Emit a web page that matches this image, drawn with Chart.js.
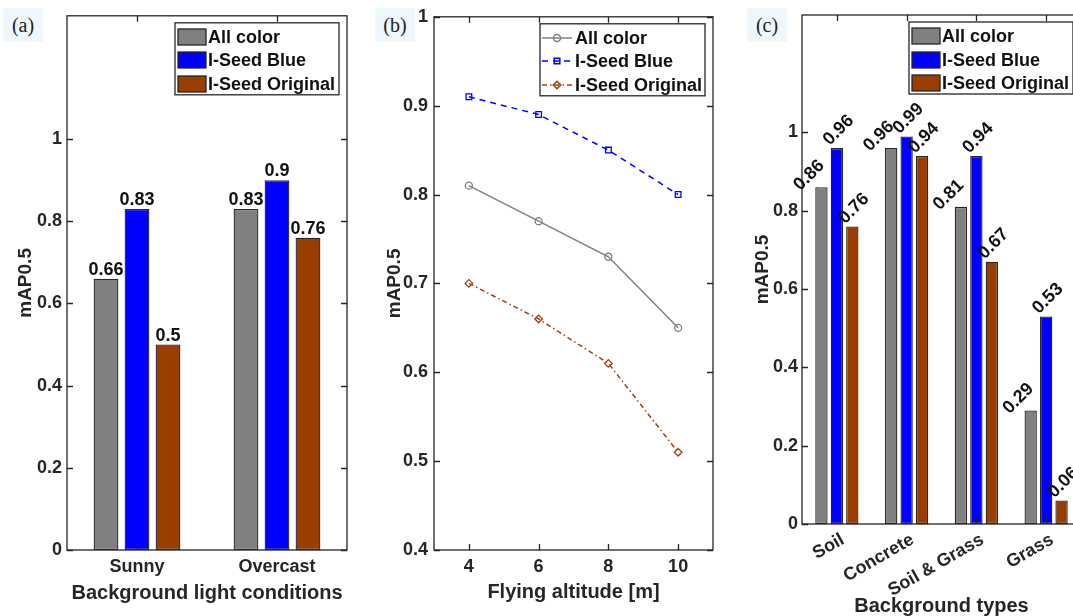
<!DOCTYPE html>
<html>
<head>
<meta charset="utf-8">
<title>mAP0.5 comparison</title>
<script src="https://cdn.jsdelivr.net/npm/chart.js@4.4.1/dist/chart.umd.min.js"></script>
<style>
  html, body { margin: 0; padding: 0; background: #fff; width: 1073px; height: 616px; overflow: hidden; position: relative; }
  canvas { position: absolute; top: 0; }
  .tag { position: absolute; top: 8px; width: 40px; height: 34px; background: #eef7fb;
         font-family: 'Liberation Serif', 'DejaVu Serif', serif; font-size: 20px; color: #222;
         text-align: center; line-height: 34px; }
</style>
</head>
<body>
<canvas id="chartLight" width="362" height="616" style="left:0px"></canvas>
<canvas id="chartAltitude" width="360" height="616" style="left:370px"></canvas>
<canvas id="chartBackground" width="400" height="616" style="left:740px"></canvas>
<div class="tag" style="left:3px">(a)</div>
<div class="tag" style="left:375px">(b)</div>
<div class="tag" style="left:747px">(c)</div>
<script>
// ---- data ----
const seriesNames = ['All color', 'I-Seed Blue', 'I-Seed Original'];

const lightConditions = ['Sunny', 'Overcast'];
const lightAllColor = [0.66, 0.83];
const lightSeedBlue = [0.83, 0.90];
const lightSeedOriginal = [0.50, 0.76];

const altitudes = [4, 6, 8, 10];
const altAllColor = [0.81, 0.77, 0.73, 0.65];
const altSeedBlue = [0.91, 0.89, 0.85, 0.80];
const altSeedOriginal = [0.70, 0.66, 0.61, 0.51];

const backgroundTypes = ['Soil', 'Concrete', 'Soil & Grass', 'Grass'];
const bgAllColor = [0.86, 0.96, 0.81, 0.29];
const bgSeedBlue = [0.96, 0.99, 0.94, 0.53];
const bgSeedOriginal = [0.76, 0.94, 0.67, 0.06];

const barYTicks = [0, 0.2, 0.4, 0.6, 0.8, 1];
const altYTicks = [0.4, 0.5, 0.6, 0.7, 0.8, 0.9, 1];
const altXTicks = [4, 6, 8, 10];

// ---- styling ----
const INK = '#262626';
const GRAY = '#808080';
const BLUE = '#0000ff';
const BROWN = '#993d00';
const LINE_BROWN = '#a0410d';
const FONT = "'Liberation Sans', Arial, Helvetica, sans-serif";

Chart.defaults.font.family = FONT;
Chart.defaults.color = INK;

// box around the plot area with inward tick marks on all four sides
const framePlugin = {
  id: 'frame',
  afterDatasetsDraw(chart) {
    const { ctx, chartArea: a, scales: { x, y } } = chart;
    const L = 6;
    ctx.save();
    ctx.strokeStyle = INK;
    ctx.lineWidth = 1.3;
    ctx.beginPath();
    x.ticks.forEach((t, i) => {
      const px = Math.round(x.getPixelForTick(i)) + 0.5;
      ctx.moveTo(px, a.bottom); ctx.lineTo(px, a.bottom - L);
      ctx.moveTo(px, a.top); ctx.lineTo(px, a.top + L);
    });
    y.ticks.forEach((t, i) => {
      const py = Math.round(y.getPixelForTick(i)) + 0.5;
      ctx.moveTo(a.left, py); ctx.lineTo(a.left + L, py);
      ctx.moveTo(a.right, py); ctx.lineTo(a.right - L, py);
    });
    ctx.stroke();
    ctx.strokeRect(a.left, a.top, a.right - a.left, a.bottom - a.top);
    ctx.restore();
  }
};

// value written above each bar
const barValuePlugin = {
  id: 'barValues',
  afterDatasetsDraw(chart, args, opts) {
    const { ctx } = chart;
    ctx.save();
    ctx.font = `bold 18px ${FONT}`;
    ctx.fillStyle = '#111';
    chart.data.datasets.forEach((ds, di) => {
      const meta = chart.getDatasetMeta(di);
      meta.data.forEach((bar, j) => {
        const text = String(ds.data[j]);
        if (opts.rotated) {
          const off = opts.offsets[di];
          ctx.save();
          ctx.translate(bar.x - bar.width / 2 + off[0], bar.y + off[1]);
          ctx.rotate(-Math.PI / 4);
          ctx.textAlign = 'left';
          ctx.textBaseline = 'alphabetic';
          ctx.fillText(text, 0, 0);
          ctx.restore();
        } else {
          ctx.textAlign = 'center';
          ctx.textBaseline = 'alphabetic';
          ctx.fillText(text, bar.x, bar.y - 4);
        }
      });
    });
    ctx.restore();
  }
};

function drawMarker(ctx, style, x, y, r) {
  ctx.beginPath();
  if (style === 'circle') {
    ctx.arc(x, y, r, 0, Math.PI * 2);
  } else if (style === 'rect') {
    const s = r * Math.SQRT1_2;
    ctx.rect(x - s, y - s, 2 * s, 2 * s);
  } else {
    ctx.moveTo(x, y - r); ctx.lineTo(x + r, y); ctx.lineTo(x, y + r); ctx.lineTo(x - r, y); ctx.closePath();
  }
  ctx.stroke();
}

// boxed legend in the upper right corner of the plot area
const boxLegendPlugin = {
  id: 'boxLegend',
  afterDraw(chart, args, opts) {
    const { ctx, chartArea: a } = chart;
    const w = opts.width, h = 72;
    const right = a.right - 8, top = a.top + 7, left = right - w;
    ctx.save();
    ctx.fillStyle = '#fff';
    ctx.fillRect(left, top, w, h);
    ctx.strokeStyle = INK;
    ctx.lineWidth = 1.3;
    ctx.strokeRect(left, top, w, h);
    ctx.font = `bold 18px ${FONT}`;
    ctx.textBaseline = 'middle';
    ctx.textAlign = 'left';
    chart.data.datasets.forEach((ds, i) => {
      const cy = Math.round(top + 14 + i * 23.5);
      let tx;
      if (opts.kind === 'bar') {
        ctx.fillStyle = ds.backgroundColor;
        ctx.fillRect(left + 3, cy - 8, 28, 16);
        ctx.strokeStyle = INK;
        ctx.lineWidth = 1.3;
        ctx.strokeRect(left + 3, cy - 8, 28, 16);
        tx = left + 33;
      } else {
        ctx.strokeStyle = ds.borderColor;
        ctx.lineWidth = ds.borderWidth;
        ctx.setLineDash(ds.borderDash || []);
        ctx.beginPath();
        ctx.moveTo(left + 2, cy); ctx.lineTo(left + 32, cy);
        ctx.stroke();
        ctx.setLineDash([]);
        ctx.fillStyle = '#fff';
        drawMarker(ctx, ds.pointStyle, left + 17, cy, ds.pointRadius);
        tx = left + 35;
      }
      ctx.fillStyle = '#111';
      ctx.fillText(ds.label, tx, cy + 1);
    });
    ctx.restore();
  }
};

const tickFont = { size: 18, weight: 'bold' };
const titleFont = { size: 20, weight: 'bold', lineHeight: 1 };
const yTitleFont = { size: 19, weight: 'bold', lineHeight: 1 };

function barDatasets(a, b, c) {
  const common = { borderColor: INK, borderWidth: 1.3, borderSkipped: false,
                   categoryPercentage: 0.664, barPercentage: 0.8 };
  return [
    { label: seriesNames[0], data: a, backgroundColor: GRAY, ...common },
    { label: seriesNames[1], data: b, backgroundColor: BLUE, ...common },
    { label: seriesNames[2], data: c, backgroundColor: BROWN, ...common }
  ];
}

function barChart(id, labels, datasets, cfg) {
  return new Chart(document.getElementById(id), {
    type: 'bar',
    data: { labels, datasets },
    options: {
      responsive: false, animation: false, devicePixelRatio: 1, events: [],
      layout: { autoPadding: false, padding: { left: 0, top: 15, right: cfg.padRight, bottom: 0 } },
      plugins: {
        legend: { display: false }, tooltip: { enabled: false },
        barValues: { rotated: cfg.rotated, offsets: cfg.offsets },
        boxLegend: { kind: 'bar', width: 164 }
      },
      scales: {
        x: {
          type: 'category', offset: true,
          grid: { display: false, drawTicks: false }, border: { display: false },
          ticks: { font: tickFont, color: INK, padding: cfg.xTickPad, autoSkip: false,
                   labelOffset: cfg.xLabelOffset, minRotation: cfg.xRotation, maxRotation: cfg.xRotation },
          title: { display: true, text: cfg.xTitle, font: titleFont, color: INK,
                   padding: { top: 0, bottom: cfg.xTitlePad } },
          afterFit(s) { s.height = cfg.xHeight; }
        },
        y: {
          min: 0, max: 1.3,
          grid: { display: false, drawTicks: false }, border: { display: false },
          afterBuildTicks(s) { s.ticks = barYTicks.map(v => ({ value: v })); },
          ticks: { font: tickFont, color: INK, padding: cfg.yTickPad, callback: v => String(v) },
          title: { display: true, text: 'mAP0.5', font: yTitleFont, color: INK,
                   padding: { top: cfg.yTitlePad, bottom: 0 } },
          afterFit(s) { s.width = cfg.yWidth; }
        }
      }
    },
    plugins: [framePlugin, barValuePlugin, boxLegendPlugin]
  });
}

// (a) background light conditions
barChart('chartLight', lightConditions,
  barDatasets(lightAllColor, lightSeedBlue, lightSeedOriginal),
  { padRight: 15, yWidth: 67, xHeight: 66, xTickPad: 6, xRotation: 0, xLabelOffset: 0,
    xTitle: 'Background light conditions', xTitlePad: 13, yTickPad: 5, yTitlePad: 16, rotated: false });

// (c) background types
barChart('chartBackground', backgroundTypes,
  barDatasets(bgAllColor, bgSeedBlue, bgSeedOriginal),
  { padRight: 59, yWidth: 62, xHeight: 92, xTickPad: 5, xRotation: 30, xLabelOffset: 6,
    xTitle: 'Background types', xTitlePad: 0, yTickPad: 4, yTitlePad: 13, rotated: true,
    offsets: [[-15, 4], [-1, -2], [-1, -2]] });

// (b) flying altitude
function points(ys) { return altitudes.map((x, i) => ({ x, y: ys[i] })); }

new Chart(document.getElementById('chartAltitude'), {
  type: 'line',
  data: {
    datasets: [
      { label: seriesNames[0], data: points(altAllColor), borderColor: GRAY, borderWidth: 1.5,
        pointStyle: 'circle', pointRadius: 3.5, pointBorderWidth: 1.3,
        pointBorderColor: GRAY, pointBackgroundColor: 'rgba(255,255,255,0)', tension: 0 },
      { label: seriesNames[1], data: points(altSeedBlue), borderColor: BLUE, borderWidth: 1.5, borderDash: [6, 5],
        pointStyle: 'rect', pointRadius: 4, pointBorderWidth: 1.3,
        pointBorderColor: BLUE, pointBackgroundColor: 'rgba(255,255,255,0)', tension: 0 },
      { label: seriesNames[2], data: points(altSeedOriginal), borderColor: LINE_BROWN, borderWidth: 1.5, borderDash: [5, 3, 1.5, 3],
        pointStyle: 'rectRot', pointRadius: 3.8, pointBorderWidth: 1.3,
        pointBorderColor: LINE_BROWN, pointBackgroundColor: 'rgba(255,255,255,0)', tension: 0 }
    ]
  },
  options: {
    responsive: false, animation: false, devicePixelRatio: 1, events: [],
    layout: { autoPadding: false, padding: { left: 0, top: 15, right: 17, bottom: 0 } },
    plugins: {
      legend: { display: false }, tooltip: { enabled: false },
      boxLegend: { kind: 'line', width: 165 }
    },
    scales: {
      x: {
        type: 'linear', min: 3, max: 11,
        grid: { display: false, drawTicks: false }, border: { display: false },
        afterBuildTicks(s) { s.ticks = altXTicks.map(v => ({ value: v })); },
        ticks: { font: tickFont, color: INK, padding: 6, callback: v => String(v) },
        title: { display: true, text: 'Flying altitude [m]', font: titleFont, color: INK,
                 padding: { top: 0, bottom: 14 } },
        afterFit(s) { s.height = 66; }
      },
      y: {
        min: 0.4, max: 1,
        grid: { display: false, drawTicks: false }, border: { display: false },
        afterBuildTicks(s) { s.ticks = altYTicks.map(v => ({ value: v })); },
        ticks: { font: tickFont, color: INK, padding: 6, callback: v => String(v) },
        title: { display: true, text: 'mAP0.5', font: yTitleFont, color: INK,
                 padding: { top: 15, bottom: 0 } },
        afterFit(s) { s.width = 64; }
      }
    }
  },
  plugins: [framePlugin, boxLegendPlugin]
});
</script>
</body>
</html>
